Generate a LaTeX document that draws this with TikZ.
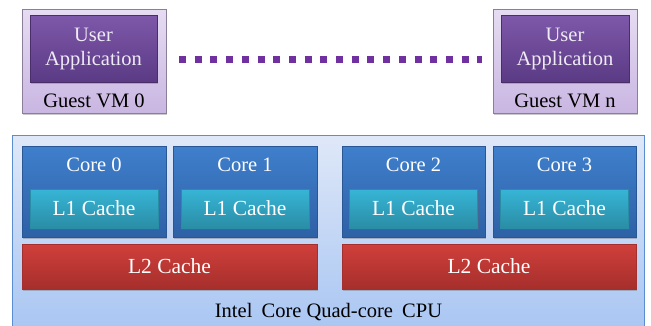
\documentclass[tikz,border=0pt]{standalone}
\usepackage{fontspec}
\setmainfont{Liberation Serif}
\usetikzlibrary{shadows}

\definecolor{cpuTop}{HTML}{DFE8F8}
\definecolor{cpuBot}{HTML}{A6C4F2}
\definecolor{cpuLine}{HTML}{5B8ED0}
\definecolor{coreTop}{HTML}{3F7FCC}
\definecolor{coreBot}{HTML}{2E61A6}
\definecolor{loneTop}{HTML}{37B5D6}
\definecolor{loneBot}{HTML}{2A8DA6}
\definecolor{ltwoTop}{HTML}{D03F3B}
\definecolor{ltwoBot}{HTML}{A52F2C}
\definecolor{appTop}{HTML}{7D58AA}
\definecolor{appBot}{HTML}{5B3A84}
\definecolor{vmTop}{HTML}{E6DCF2}
\definecolor{vmBot}{HTML}{C9B6E2}
\definecolor{vmLine}{HTML}{8A7E9A}
\definecolor{dotPurple}{HTML}{7030A0}

\newcommand{\boxfont}{\fontsize{20.5}{24}\selectfont}
\newcommand{\cachefont}{\fontsize{21.5}{24}\selectfont}

\tikzset{
  basebox/.style={rectangle, inner sep=0pt, outer sep=0pt,
    drop shadow={shadow xshift=1pt, shadow yshift=-1.5pt, opacity=0.35, fill=black!60}},
  vmbox/.style={basebox, draw=vmLine, line width=0.8pt, top color=vmTop, bottom color=vmBot},
  appbox/.style={basebox, top color=appTop, bottom color=appBot, draw=appBot!80!black, line width=0.3pt,
    text=white!88!appTop, align=center, font=\boxfont},
  corebox/.style={basebox, top color=coreTop, bottom color=coreBot, draw=coreBot!90!black, line width=0.3pt,
    minimum width=144pt, minimum height=91pt},
  lonebox/.style={basebox, top color=loneTop, bottom color=loneBot, draw=loneBot, line width=0.3pt,
    minimum width=128pt, minimum height=39pt, text=white, font=\cachefont},
  ltwobox/.style={basebox, top color=ltwoTop, bottom color=ltwoBot, draw=ltwoBot, line width=0.3pt,
    minimum height=45pt, text=white, font=\cachefont},
  whitelabel/.style={text=white, font=\boxfont, inner sep=0pt},
  blacklabel/.style={text=black, font=\boxfont, inner sep=0pt},
  dotline/.style={draw=dotPurple, line width=7pt, dash pattern=on 7pt off 8.7pt}
}

\begin{document}
\begin{tikzpicture}[x=1pt, y=-1pt]
\useasboundingbox (0,0) rectangle (651,325);

% guest virtual machines
\node[vmbox, minimum width=144pt, minimum height=104pt] (vm0) at (94,61) {};
\node[appbox, minimum width=127pt, minimum height=67pt] (app0) at (93.5,49) {User\\Application};
\node[blacklabel] (vm0lbl) at (94,101) {Guest VM 0};

\node[vmbox, minimum width=144pt, minimum height=104pt] (vmn) at (565,61) {};
\node[appbox, minimum width=128pt, minimum height=67pt] (appn) at (565,49) {User\\Application};
\node[blacklabel] (vmnlbl) at (565,101) {Guest VM n};

\draw[dotline, shorten <=13pt, shorten >=11pt] ([yshift=2pt]vm0.east) -- ([yshift=2pt]vmn.west);

% processor package
\shade[top color=cpuTop, bottom color=cpuBot, draw=cpuLine, line width=0.8pt]
  (12.5,135) rectangle (644,340);
\node[blacklabel] (cpulbl) at (328.5,312) {Intel\hspace{4pt} Core Quad-core\hspace{4pt} CPU};

% cores with private L1
\node[corebox] (core0) at (94,191.5) {};
\node[corebox] (core1) at (245,191.5) {};
\node[corebox, minimum width=143pt] (core2) at (413.5,191.5) {};
\node[corebox, minimum width=143pt] (core3) at (564.5,191.5) {};

\node[whitelabel] (c0lbl) at (94,165) {Core 0};
\node[whitelabel] (c1lbl) at (245,165) {Core 1};
\node[whitelabel] (c2lbl) at (413.5,165) {Core 2};
\node[whitelabel] (c3lbl) at (564.5,165) {Core 3};

\node[lonebox] (l1a) at (94,208.5) {L1 Cache};
\node[lonebox] (l1b) at (245,208.5) {L1 Cache};
\node[lonebox] (l1c) at (413.5,208.5) {L1 Cache};
\node[lonebox] (l1d) at (564.5,208.5) {L1 Cache};

% shared L2 per core pair
\node[ltwobox, minimum width=295pt] (l2a) at (169.5,266.5) {L2 Cache};
\node[ltwobox, minimum width=294pt] (l2b) at (489,266.5) {L2 Cache};
\end{tikzpicture}
\end{document}
